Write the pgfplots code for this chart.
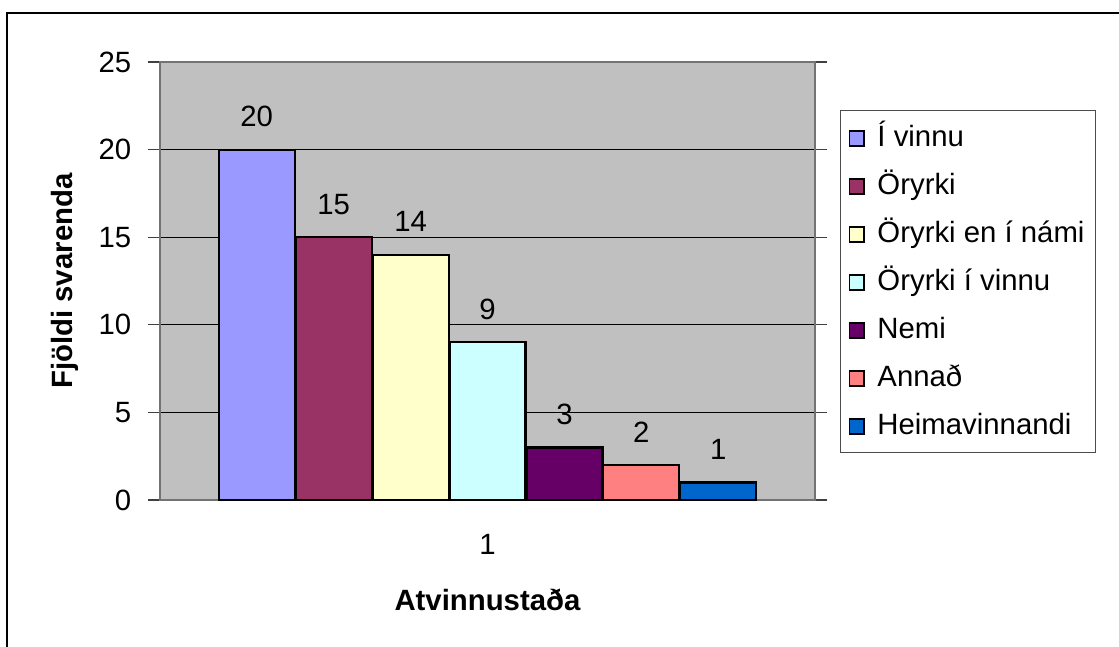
\documentclass[border=0pt]{standalone}
\usepackage{fontspec}
\setmainfont{Liberation Sans}
\usepackage{pgfplots}
\pgfplotsset{compat=1.18}
\definecolor{cA}{HTML}{9999FF}
\definecolor{cB}{HTML}{993366}
\definecolor{cC}{HTML}{FFFFCC}
\definecolor{cD}{HTML}{CCFFFF}
\definecolor{cE}{HTML}{660066}
\definecolor{cF}{HTML}{FF8080}
\definecolor{cG}{HTML}{0066CC}
\definecolor{graybg}{HTML}{C0C0C0}
\begin{document}
\begin{tikzpicture}
\begin{scope}[x=0.75pt,y=-0.75pt]
\path[use as bounding box] (0,0) rectangle (1119,646);
\fill[white] (0,0) rectangle (1119,646);
\draw[line width=1.6pt] (7,660) -- (7,13) -- (1130,13);
\end{scope}
\begin{axis}[
  at={(120pt,-375pt)}, anchor=south west,
  scale only axis, width=491.25pt, height=328.5pt,
  ybar, bar width=57pt, ybar=0.7pt,
  xmin=0.5, xmax=1.5, ymin=0, ymax=25,
  ytick={0,5,10,15,20,25},
  xtick={1}, xticklabels={1},
  extra x ticks={0.5,1.5}, extra x tick labels={},
  extra x tick style={major tick length=9pt, tick style={black!75, line width=0.8pt}},
  major x tick style={draw=none},
  tick align=outside, major tick length=9pt,
  ytick style={black!75, line width=0.8pt},
  ymajorgrids, grid style={black, line width=0.6pt},
  axis background/.style={fill=graybg},
  axis line style={black!55, line width=0.8pt},
  tick label style={font=\fontsize{22}{26}\selectfont},
  /pgf/number format/assume math mode=true,
  yticklabel style={xshift=-9pt},
  xticklabel style={yshift=-13pt},
  nodes near coords,
  every node near coord/.append style={font=\fontsize{22}{26}\selectfont, yshift=13pt, black},
  xlabel={\textbf{Atvinnustaða}},
  ylabel={\textbf{Fjöldi svarenda}},
  every axis x label/.style={at={(axis description cs:0.5,-0.228)}, anchor=center, font=\fontsize{22}{26}\selectfont},
  every axis y label/.style={at={(axis description cs:-0.145,0.5)}, rotate=90, anchor=center, font=\fontsize{22}{26}\selectfont},
  legend style={at={(axis description cs:1.038,0.890)}, anchor=north west,
    draw=black!70, fill=white, font=\fontsize{22}{26}\selectfont,
    inner xsep=6pt, inner ysep=2pt, row sep=0pt,
    nodes={text height=19pt, text depth=5pt, inner xsep=2pt, inner ysep=6pt}},
  legend cell align=left,
  legend image code/.code={\draw[#1,draw=black,line width=1.4pt] (1pt,-6.5pt) rectangle (12pt,4.5pt); \path[draw=none,fill=none] (0pt,0pt) -- (20pt,0pt);},
]
\addplot[fill=cA, draw=black, line width=1.6pt] coordinates {(1,20)};
\addplot[fill=cB, draw=black, line width=1.6pt] coordinates {(1,15)};
\addplot[fill=cC, draw=black, line width=1.6pt] coordinates {(1,14)};
\addplot[fill=cD, draw=black, line width=1.6pt] coordinates {(1,9)};
\addplot[fill=cE, draw=black, line width=1.6pt] coordinates {(1,3)};
\addplot[fill=cF, draw=black, line width=1.6pt] coordinates {(1,2)};
\addplot[fill=cG, draw=black, line width=1.6pt] coordinates {(1,1)};
\legend{Í vinnu,Öryrki,Öryrki en í námi,Öryrki í vinnu,Nemi,Annað,Heimavinnandi}
\end{axis}
\end{tikzpicture}
\end{document}
